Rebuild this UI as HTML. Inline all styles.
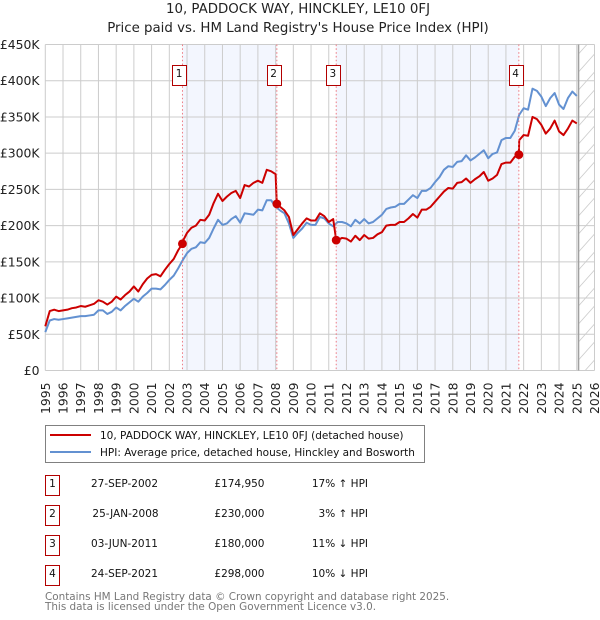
<!DOCTYPE html>
<html>
<head>
<meta charset="utf-8">
<title>10, Paddock Way, Hinckley price chart</title>
<style>
html,body{margin:0;padding:0;background:#fff;}
svg{display:block;font-family:"DejaVu Sans","Liberation Sans",sans-serif;}
</style>
</head>
<body>
<svg id="chart" xmlns="http://www.w3.org/2000/svg" width="600" height="620" viewBox="0 0 600 620">
  <defs>
    <pattern id="hatch" patternUnits="userSpaceOnUse" width="16" height="18" patternTransform="translate(578.5,0)">
      <path d="M0 18L16 0" stroke="#cccccc" stroke-width="0.8" fill="none"/>
    </pattern>
  </defs>
  <rect x="0" y="0" width="600" height="620" fill="#ffffff"/>
  <text x="298" y="13" font-size="13.35" text-anchor="middle" fill="#222">10, PADDOCK WAY, HINCKLEY, LE10 0FJ</text>
  <text x="298" y="32" font-size="13.35" text-anchor="middle" fill="#222">Price paid vs. HM Land Registry's House Price Index (HPI)</text>
  <g id="bands"></g>
  <g id="grid"></g>
  <g id="hatching"></g>
  <g id="series"></g>
  <g id="sales"></g>
  <g id="ticks"></g>

  <g>
    <rect x="45.5" y="425.5" width="379" height="37" fill="#fff" stroke="#808080" stroke-width="1"/>
    <line x1="50" x2="91" y1="435" y2="435" stroke="#cc0000" stroke-width="2"/>
    <text x="100" y="439" font-size="10.5" fill="#111">10, PADDOCK WAY, HINCKLEY, LE10 0FJ (detached house)</text>
    <line x1="50" x2="91" y1="452" y2="452" stroke="#6391d1" stroke-width="2"/>
    <text x="100" y="456" font-size="10.5" fill="#111">HPI: Average price, detached house, Hinckley and Bosworth</text>
  </g>

  <g font-size="10.5" fill="#111">
    <g>
      <rect x="45.5" y="475.5" width="14" height="20" fill="#fff" stroke="#b20000"/>
      <text x="52.5" y="487" text-anchor="middle">1</text>
      <text x="124.5" y="487" text-anchor="middle">27-SEP-2002</text>
      <text x="264.5" y="487" text-anchor="end">£174,950</text>
      <text x="368" y="487" text-anchor="end">17% ↑ HPI</text>
    </g>
    <g>
      <rect x="45.5" y="505.5" width="14" height="20" fill="#fff" stroke="#b20000"/>
      <text x="52.5" y="517" text-anchor="middle">2</text>
      <text x="125.5" y="517" text-anchor="middle">25-JAN-2008</text>
      <text x="264.5" y="517" text-anchor="end">£230,000</text>
      <text x="368" y="517" text-anchor="end">3% ↑ HPI</text>
    </g>
    <g>
      <rect x="45.5" y="535.5" width="14" height="20" fill="#fff" stroke="#b20000"/>
      <text x="52.5" y="547" text-anchor="middle">3</text>
      <text x="124.5" y="547" text-anchor="middle">03-JUN-2011</text>
      <text x="264.5" y="547" text-anchor="end">£180,000</text>
      <text x="368" y="547" text-anchor="end">11% ↓ HPI</text>
    </g>
    <g>
      <rect x="45.5" y="565.5" width="14" height="20" fill="#fff" stroke="#b20000"/>
      <text x="52.5" y="577" text-anchor="middle">4</text>
      <text x="124.5" y="577" text-anchor="middle">24-SEP-2021</text>
      <text x="264.5" y="577" text-anchor="end">£298,000</text>
      <text x="368" y="577" text-anchor="end">10% ↓ HPI</text>
    </g>
  </g>

  <text x="45" y="600" font-size="10.4" fill="#777">Contains HM Land Registry data © Crown copyright and database right 2025.</text>
  <text x="45" y="610" font-size="10.4" fill="#777">This data is licensed under the Open Government Licence v3.0.</text>
</svg>

<script>
// Quarterly series, starting 1995 Q1 (£ thousands)
const firstYear = 1995;
const stepYears = 0.25;
const hpiValues = [
  53,69,71,70, 71,72,73,74, 75,75,76,77, 83,83,78,81, 87,83,89,94,
  99,95,102,107, 113,113,112,118, 125,131,141,152, 162,168,170,177,
  176,183,196,208, 201,203,209,213, 204,217,216,215, 222,221,235,235,
  226,221,217,203, 183,190,196,204, 201,201,212,210, 203,199,205,205,
  203,199,208,203, 209,203,205,210, 215,223,225,226, 230,230,236,242,
  238,248,248,252, 260,267,277,282, 281,288,289,297, 290,294,299,304,
  293,299,301,318, 321,321,331,353, 362,360,389,386, 378,365,376,383,
  367,361,376,385, 379
];
const priceValues = [
  61,82,84,82, 83,84,86,87, 89,88,90,92, 97,95,91,95, 102,98,104,109,
  116,109,119,127, 132,133,130,139, 147,154,166,178, 190,197,200,208,
  207,215,231,244, 234,240,245,248, 238,256,254,259, 262,259,277,275,
  271,226,221,212, 187,195,203,210, 207,207,217,213, 205,209,180,183,
  182,178,186,180, 187,182,183,188, 191,200,201,201, 205,205,210,216,
  211,222,222,226, 233,240,247,252, 251,259,260,265, 259,264,268,274,
  262,265,270,285, 287,287,295,318, 325,324,350,347, 339,327,334,345,
  330,325,334,345, 341
];
// Sale markers
const saleLabels = ["1","2","3","4"];
const saleYears = [2002.74,2008.07,2011.42,2021.73];
const salePrices = [174.95,230,180,298];
// Axis labels
const yearTicks = [1995,1996,1997,1998,1999,2000,2001,2002,2003,2004,2005,2006,2007,2008,2009,2010,2011,2012,2013,2014,2015,2016,2017,2018,2019,2020,2021,2022,2023,2024,2025,2026];
const priceTicks = [0,50,100,150,200,250,300,350,400,450];
const priceTickLabels = ["£0","£50K","£100K","£150K","£200K","£250K","£300K","£350K","£400K","£450K"];
const dataEndYear = 2025.1;

const NS = "http://www.w3.org/2000/svg";
const plotL = 45.3, plotR = 594.5, plotT = 44.5, plotB = 370.5;
const xScale = y => plotL + (y - yearTicks[0]) / (yearTicks[yearTicks.length-1] - yearTicks[0]) * (plotR - plotL);
const yScale = v => plotB - v / priceTicks[priceTicks.length-1] * (plotB - plotT);
function mk(tag, parent, attrs){
  const el = document.createElementNS(NS, tag);
  for (const k in attrs) el.setAttribute(k, attrs[k]);
  document.getElementById(parent).appendChild(el);
  return el;
}

// shaded ownership bands
for (let i = 0; i < saleYears.length; i += 2) {
  const band = mk("rect","bands",{x:xScale(saleYears[i]),y:plotT,width:xScale(saleYears[i+1])-xScale(saleYears[i]),height:plotB-plotT,fill:"#f3f6fe"});
  
  
}
// grid
yearTicks.forEach(y => {
  const line = mk("line","grid",{x1:xScale(y),x2:xScale(y),y1:plotT,y2:plotB,stroke:"#cccccc","stroke-width":1});
  
  
});
priceTicks.forEach(v => {
  const line = mk("line","grid",{x1:plotL,x2:plotR,y1:yScale(v),y2:yScale(v),stroke:"#cccccc","stroke-width":1});
  
  
});
// forecast hatch
const hatchRect = mk("rect","hatching",{x:xScale(dataEndYear),y:plotT,width:plotR-xScale(dataEndYear),height:plotB-plotT,fill:"url(#hatch)"});


const endLine = mk("line","hatching",{x1:xScale(dataEndYear),x2:xScale(dataEndYear),y1:plotT,y2:plotB,stroke:"#a0a0a0","stroke-width":1.5});



// series
function pathFrom(points){
  return points.map((p,i)=>(i?"L":"M")+xScale(p[0]).toFixed(2)+" "+yScale(p[1]).toFixed(2)).join("");
}
const hpiPoints = hpiValues.map((v,i)=>[firstYear+i*stepYears,v]);
const pricePoints = priceValues.map((v,i)=>[firstYear+i*stepYears,v]);
saleYears.forEach((y,i)=>pricePoints.push([y,salePrices[i]]));
pricePoints.sort((a,b)=>a[0]-b[0]);
const hpiLine = mk("path","series",{d:pathFrom(hpiPoints),fill:"none",stroke:"#6391d1","stroke-width":2,"stroke-linejoin":"round"});


const priceLine = mk("path","series",{d:pathFrom(pricePoints),fill:"none",stroke:"#cc0000","stroke-width":2,"stroke-linejoin":"round"});



// sale markers
saleYears.forEach((y,i) => {
  const x = xScale(y);
  const guide = mk("line","sales",{x1:x,x2:x,y1:plotT,y2:plotB,stroke:"#ee7078","stroke-width":0.9,"stroke-dasharray":"1.6 2.2"});
  
  
  const dot = mk("circle","sales",{cx:x,cy:yScale(salePrices[i]),r:4.4,fill:"#cc0000"});
  
  
  const box = mk("rect","sales",{x:Math.round(x-3.3-7)+0.5,y:65.5,width:14,height:20,fill:"#fff",stroke:"#b20000","stroke-width":1});
  
  
  const label = mk("text","sales",{x:x-3.3,y:77,"font-size":10.5,"text-anchor":"middle",fill:"#111"});
  label.textContent = saleLabels[i];
  
  
});

// tick labels
priceTicks.forEach((v,i) => {
  const t = mk("text","ticks",{x:39.5,y:yScale(v)+4.5,"font-size":12.4,"text-anchor":"end",fill:"#222"});
  t.textContent = priceTickLabels[i];
  
  
});
yearTicks.forEach(y => {
  const x = xScale(y);
  const t = mk("text","ticks",{x:0,y:0,"font-size":12.4,"text-anchor":"end",fill:"#222",transform:"translate("+(x+4.5)+",382.5) rotate(-90)"});
  t.textContent = y;
  
  
});
</script>
</body>
</html>
